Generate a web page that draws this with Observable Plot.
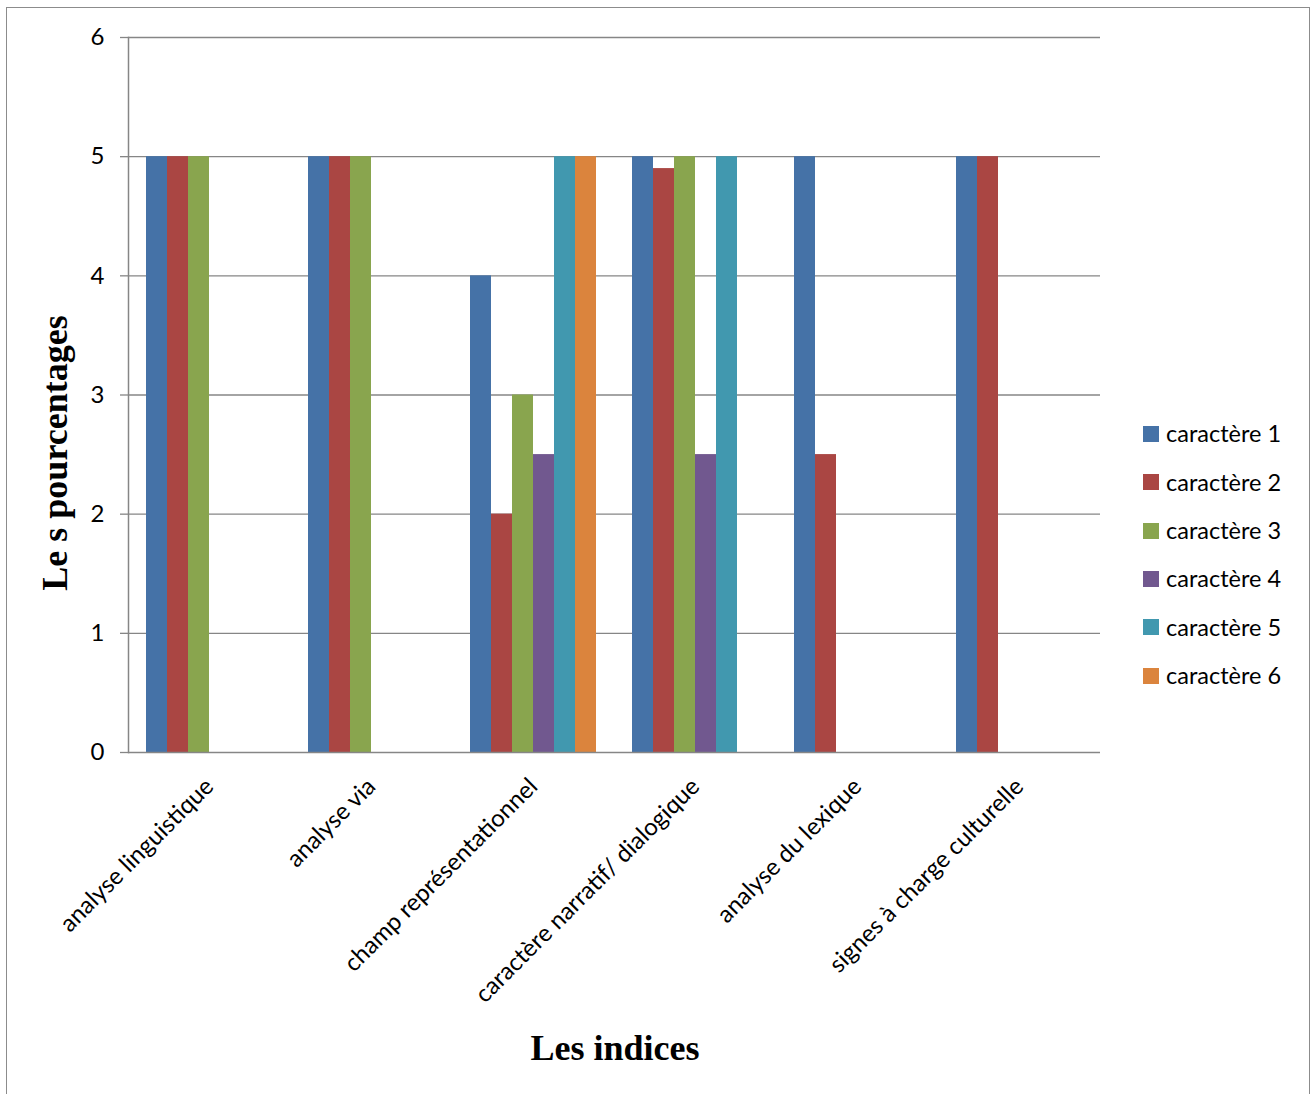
<!DOCTYPE html>
<html>
<head>
<meta charset="utf-8">
<script src="https://cdn.jsdelivr.net/npm/d3@7"></script>
<script src="https://cdn.jsdelivr.net/npm/@observablehq/plot@0.6"></script>
<style>
  html, body { margin: 0; padding: 0; background: #fff; }
  #wrap { position: relative; width: 1315px; height: 1094px; overflow: hidden; font-family: Lato, "Open Sans", sans-serif; }
  #border { position: absolute; left: 6px; top: 7px; width: 1304px; height: 1200px; border: 1.5px solid #8c8c8c; box-sizing: border-box; }
  #chart { position: absolute; left: 0; top: 0; }
  .ytitle { position: absolute; left: 55px; top: 453px; transform: translate(-50%, -50%) rotate(-90deg); font-family: "Liberation Serif", "DejaVu Serif", serif; font-weight: bold; font-size: 36px; white-space: nowrap; color: #000; }
  .xtitle { position: absolute; left: 615px; top: 1048px; transform: translate(-50%, -50%); font-family: "Liberation Serif", "DejaVu Serif", serif; font-weight: bold; font-size: 36px; white-space: nowrap; color: #000; }
  #legend { position: absolute; left: 1143px; top: 410px; }
  .item { display: flex; align-items: center; height: 48.3px; margin-top: 0; }
  .sw { width: 16px; height: 16px; margin-right: 7px; }
  .lab { font-size: 23.5px; color: #000; line-height: 1; }
</style>
</head>
<body>
<div id="wrap">
  <div id="border"></div>
  <div id="chart"></div>
  <div class="ytitle">Le s pourcentages</div>
  <div class="xtitle">Les indices</div>
  <div id="legend"></div>
</div>
<script>
const categories = ["analyse linguistique", "analyse via", "champ représentationnel", "caractère narratif/ dialogique", "analyse du lexique", "signes à charge culturelle"];
const series = ["caractère 1", "caractère 2", "caractère 3", "caractère 4", "caractère 5", "caractère 6"];
const colors = ["#4572A7", "#AA4643", "#89A54E", "#71588F", "#4198AF", "#DB843D"];
const serie1 = [5, 5, 4, 5, 5, 5];
const serie2 = [5, 5, 2, 4.9, 2.5, 5];
const serie3 = [5, 5, 3, 5, 0, 0];
const serie4 = [0, 0, 2.5, 2.5, 0, 0];
const serie5 = [0, 0, 5, 5, 0, 0];
const serie6 = [0, 0, 5, 0, 0, 0];
const yTicks = [0, 1, 2, 3, 4, 5, 6];

const allSeries = [serie1, serie2, serie3, serie4, serie5, serie6];
const data = [];
categories.forEach((c, i) => {
  series.forEach((s, j) => {
    data.push({category: c, series: s, value: allSeries[j][i]});
  });
});

const gray = "#868686";
const chart = Plot.plot({
  width: 1315,
  height: 1094,
  marginLeft: 128,
  marginRight: 215,
  marginTop: 37,
  marginBottom: 342,
  style: {fontFamily: "Lato, 'Open Sans', sans-serif", background: "transparent", color: "#000"},
  fx: {domain: categories, padding: 0},
  x: {domain: series, paddingInner: 0, paddingOuter: 0.75, axis: null},
  y: {domain: [0, 6]},
  color: {domain: series, range: colors},
  marks: [
    Plot.gridY(yTicks.filter(t => t > 0), {stroke: gray, strokeOpacity: 1, strokeWidth: 1.3}),
    Plot.barY(data.filter(d => d.value > 0), {fx: "category", x: "series", y: "value", fill: "series", inset: 0}),
    Plot.ruleY([0], {stroke: gray, strokeWidth: 1.5}),
    Plot.frame({anchor: "left", facetAnchor: "left", stroke: gray, strokeWidth: 1.5}),
    Plot.axisY(yTicks, {tickSize: 8, tickPadding: 16, fontSize: 24, stroke: gray, strokeWidth: 1.3, label: null, tickFormat: d => String(d)}),
    Plot.axisFx({anchor: "bottom", tickRotate: -45, tickSize: 0, tickPadding: 30, fontSize: 24, label: null})
  ]
});
document.getElementById("chart").appendChild(chart);

const legend = document.getElementById("legend");
series.forEach((s, i) => {
  const item = document.createElement("div");
  item.className = "item";
  const sw = document.createElement("div");
  sw.className = "sw";
  sw.style.background = colors[i];
  const lab = document.createElement("div");
  lab.className = "lab";
  lab.textContent = s;
  item.appendChild(sw);
  item.appendChild(lab);
  legend.appendChild(item);
});
</script>
</body>
</html>
